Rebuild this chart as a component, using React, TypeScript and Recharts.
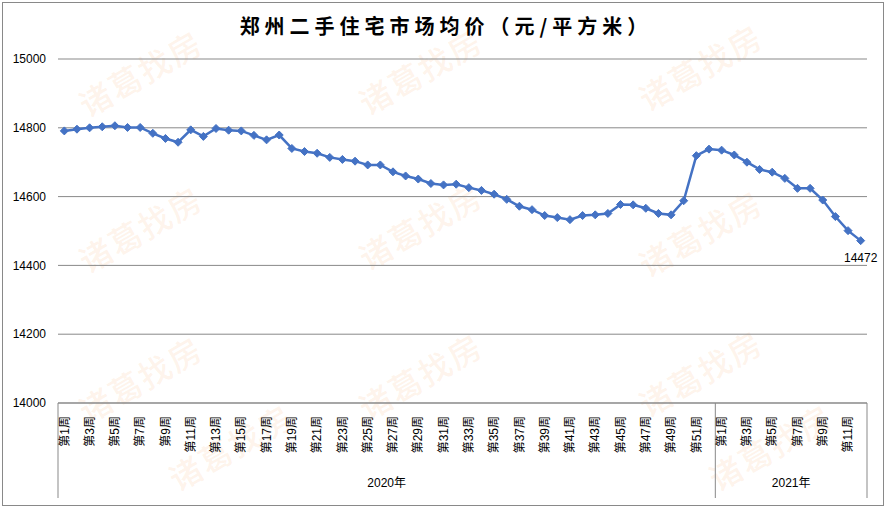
import React from "react";
import { LineChart, Line, XAxis, YAxis, CartesianGrid, LabelList } from "recharts";

// 郑州二手住宅市场均价, weekly, 2020 week 1 .. 2021 week 12
const years = ["2020年", "2021年"];
const weeksPerYear = [52, 12];
const prices2020 = [
  14791, 14796, 14800, 14803, 14806, 14801, 14801, 14784, 14769, 14758,
  14794, 14775, 14798, 14793, 14791, 14778, 14765, 14779, 14740, 14731,
  14726, 14714, 14708, 14703, 14692, 14692, 14672, 14660, 14651, 14638,
  14634, 14636, 14626, 14618, 14607, 14592, 14572, 14562, 14545, 14539,
  14533, 14545, 14547, 14551, 14577, 14576, 14566, 14551, 14547, 14588,
  14719, 14738,
];
const prices2021 = [14735, 14721, 14700, 14679, 14671, 14653, 14624, 14624, 14590, 14542, 14501, 14472];
const yTicks = [14000, 14200, 14400, 14600, 14800, 15000];

const watermarks = [
  [140, 72], [420, 70], [700, 66],
  [140, 228], [420, 225], [700, 232],
  [140, 378], [420, 375], [700, 372],
  [230, 446], [770, 446],
];

const allPrices = [...prices2020, ...prices2021];
const data = allPrices.map((price, i) => ({ i, price }));

// tick table: week labels (odd weeks), year boundaries, year names
type TickInfo = { kind: "week" | "bound" | "year"; text?: string };
const tickInfo = new Map<number, TickInfo>();
let start = 0;
tickInfo.set(-0.5, { kind: "bound" });
years.forEach((yr, y) => {
  const n = weeksPerYear[y];
  for (let w = 1; w <= n; w += 2) tickInfo.set(start + w - 1, { kind: "week", text: `第${w}周` });
  tickInfo.set(start + n / 2 - 0.5, { kind: "year", text: yr });
  tickInfo.set(start + n - 0.5, { kind: "bound" });
  start += n;
});
const xTicks = Array.from(tickInfo.keys());

const FONT = "'Liberation Sans', 'Noto Sans CJK SC', sans-serif";
const BLUE = "#4472C4";
const GRID = "#898989";

const XTick = (props: any) => {
  const { x, y, payload } = props;
  const info = tickInfo.get(payload.value);
  if (!info) return null;
  if (info.kind === "bound") {
    return <line x1={x} y1={y} x2={x} y2={y + 95} stroke={GRID} strokeWidth={1} />;
  }
  if (info.kind === "year") {
    return (
      <text x={x} y={y + 84} textAnchor="middle" fontSize={12} fill="#000" fontFamily={FONT}>
        {info.text}
      </text>
    );
  }
  return (
    <g transform={`translate(${x},${y + 13}) rotate(-90)`}>
      <text x={0} y={0} dy="0.35em" textAnchor="end" fontSize={12} fill="#000" fontFamily={FONT}>
        {info.text}
      </text>
    </g>
  );
};

const Diamond = (props: any) => {
  const { cx, cy } = props;
  if (cx == null || cy == null) return null;
  const r = 4;
  return (
    <polygon
      points={`${cx},${cy - r} ${cx + r},${cy} ${cx},${cy + r} ${cx - r},${cy}`}
      fill={BLUE}
      stroke={BLUE}
      strokeWidth={1}
    />
  );
};

const LastLabel = (props: any) => {
  const { x, y, index, value } = props;
  if (index !== allPrices.length - 1) return null;
  return (
    <text x={x} y={y + 21} textAnchor="middle" fontSize={12} fill="#000" fontFamily={FONT}>
      {value}
    </text>
  );
};

export default function App() {
  return (
    <div style={{ position: "relative", width: 887, height: 508, background: "#fff", overflow: "hidden" }}>
      <style>{`body{margin:0}`}</style>
      {watermarks.map(([cx, cy], k) => (
        <div
          key={k}
          style={{
            position: "absolute",
            left: cx,
            top: cy,
            transform: "translate(-50%,-50%) rotate(-30deg)",
            fontFamily: "'Noto Sans CJK SC', sans-serif",
            fontWeight: 500,
            fontSize: 32,
            lineHeight: "36px",
            letterSpacing: 2,
            color: "rgba(248,170,110,0.14)",
            whiteSpace: "nowrap",
          }}
        >
          诸葛找房
        </div>
      ))}
      <div
        style={{
          position: "absolute",
          left: 2,
          top: 2,
          width: 882,
          height: 504,
          border: `1px solid ${GRID}`,
          boxSizing: "border-box",
        }}
      />
      <div
        style={{
          position: "absolute",
          top: 15,
          left: 0,
          width: 887,
          textAlign: "center",
          fontFamily: "'Noto Sans CJK SC', serif",
          fontWeight: 700,
          fontSize: 20,
          lineHeight: "22px",
          letterSpacing: 5,
          paddingLeft: 5,
          boxSizing: "border-box",
          color: "#000",
          zIndex: 2,
        }}
      >
        郑州二手住宅市场均价（元/平方米）
      </div>
      <LineChart width={887} height={508} data={data} margin={{ top: 59, right: 20, left: 0, bottom: 0 }}>
        <CartesianGrid horizontal vertical={false} stroke={GRID} strokeWidth={1} />
        <XAxis
          dataKey="i"
          type="number"
          domain={[-0.5, 63.5]}
          ticks={xTicks}
          interval={0}
          height={105}
          tickSize={0}
          tickMargin={0}
          tickLine={false}
          axisLine={{ stroke: GRID }}
          tick={<XTick />}
          allowDataOverflow
        />
        <YAxis
          domain={[14000, 15000]}
          ticks={yTicks}
          width={58}
          axisLine={false}
          tickLine={false}
          tickSize={0}
          tickMargin={12}
          tick={{ fontSize: 12, fill: "#000", fontFamily: FONT }}
        />
        <Line
          type="linear"
          dataKey="price"
          stroke={BLUE}
          strokeWidth={2.5}
          dot={<Diamond />}
          activeDot={false}
          isAnimationActive={false}
        >
          <LabelList dataKey="price" content={<LastLabel />} />
        </Line>
      </LineChart>
    </div>
  );
}
